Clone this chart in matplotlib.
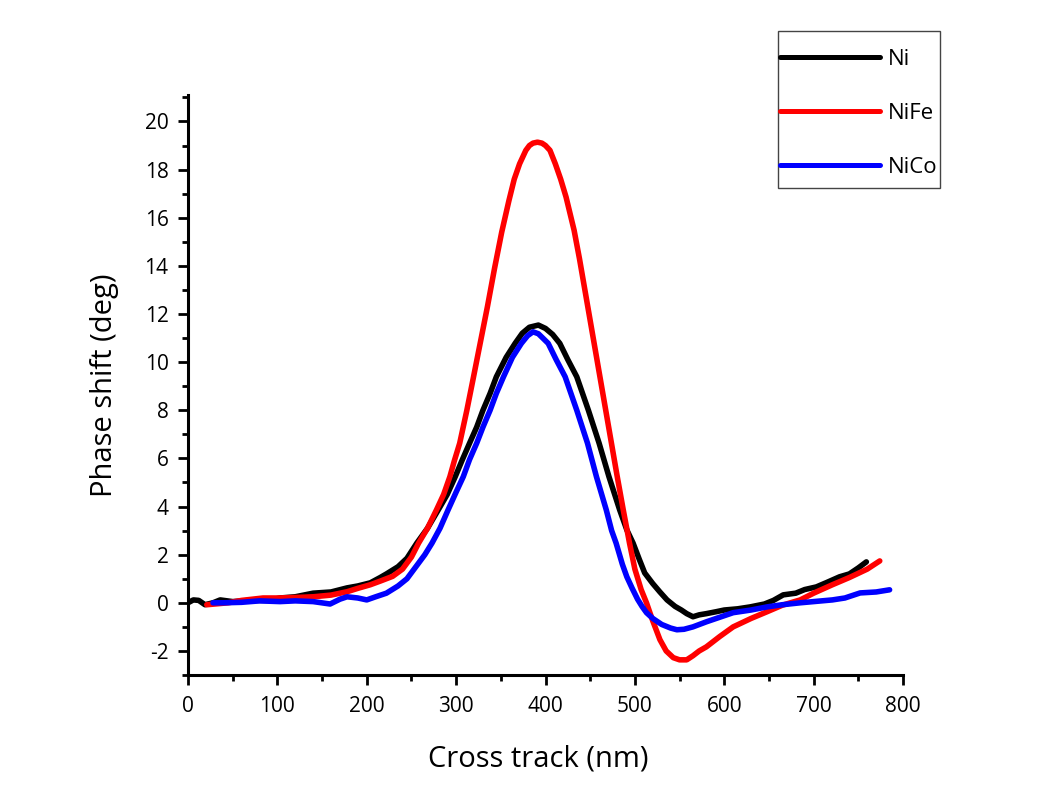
import matplotlib
matplotlib.use("Agg")
import matplotlib.pyplot as plt
from matplotlib.patches import Rectangle
from matplotlib.ticker import MultipleLocator

plt.rcParams["axes.unicode_minus"] = False

# Cross-track phase-shift profiles (x in nm, phase in degrees)
ni_x = [0, 6, 12, 19, 28, 36, 50, 70, 90, 103, 120, 140, 160, 178, 190, 204, 215, 222,
        235, 245, 256, 268, 280, 290, 299, 307, 315, 323, 330, 338, 345, 356, 366, 374,
        382, 392, 400, 408, 416, 425, 435, 448, 460, 471, 483, 491, 498, 505, 511, 520,
        528, 536, 545, 552, 558, 565, 572, 580, 591, 600, 615, 629, 645, 655, 666, 680,
        690, 703, 715, 729, 740, 750, 759]
ni_y = [0.0, 0.12, 0.1, -0.08, 0.0, 0.12, 0.05, 0.1, 0.1, 0.2, 0.25, 0.4, 0.45, 0.62,
        0.7, 0.83, 1.05, 1.2, 1.5, 1.85, 2.48, 3.1, 3.86, 4.5, 5.24, 5.95, 6.63, 7.3,
        8.0, 8.7, 9.39, 10.2, 10.78, 11.2, 11.45, 11.54, 11.4, 11.15, 10.78, 10.1, 9.39,
        8.0, 6.63, 5.24, 3.86, 3.03, 2.48, 1.8, 1.24, 0.8, 0.45, 0.12, -0.15, -0.3, -0.45,
        -0.58, -0.5, -0.45, -0.37, -0.3, -0.25, -0.17, -0.05, 0.1, 0.33, 0.4, 0.55, 0.66,
        0.85, 1.08, 1.2, 1.45, 1.7]

nife_x = [21, 30, 45, 60, 84, 100, 120, 140, 160, 178, 190, 204, 215, 222, 229, 240, 250,
          258, 268, 278, 286, 293, 298, 304, 312, 319, 327, 335, 343, 351, 359, 365,
          371, 378, 382, 386, 391, 396, 400, 405, 411, 417, 423, 432, 438, 445, 452,
          459, 466, 473, 480, 487, 494, 500, 507, 513, 520, 528, 535, 543, 550,
          558, 565, 572, 580, 595, 610, 630, 648, 665, 685, 700, 721, 740, 760, 774]
nife_y = [-0.08, -0.05, 0.0, 0.1, 0.2, 0.2, 0.22, 0.25, 0.32, 0.46, 0.6, 0.75, 0.9, 1.0,
          1.1, 1.4, 1.9, 2.48, 3.1, 3.86, 4.5, 5.24, 5.9, 6.63, 8.0, 9.3, 10.8, 12.3,
          13.9, 15.4, 16.7, 17.6, 18.24, 18.8, 19.0, 19.1, 19.14, 19.1, 19.0,
          18.8, 18.24, 17.6, 16.86, 15.48, 14.3, 12.8, 11.3, 9.8, 8.3, 6.8, 5.3, 3.86,
          2.48, 1.4, 0.55, 0.0, -0.75, -1.53, -2.0, -2.28, -2.37,
          -2.37, -2.2, -2.0, -1.83, -1.4, -1.0, -0.65, -0.37, -0.1, 0.12, 0.4, 0.75, 1.05,
          1.4, 1.74]

nico_x = [28, 40, 60, 80, 103, 120, 140, 159, 170, 178, 190, 200, 210, 222, 235, 245, 258,
          265, 273, 282, 291, 300, 308, 315, 323, 330, 338, 345, 353, 363, 373, 380, 386,
          392, 397, 403, 412, 422, 435, 447, 457, 468, 474, 479, 486, 491, 497, 503, 508,
          513, 520, 530, 540, 547, 555, 565, 580, 595, 610, 630, 648, 665, 685, 700, 721,
          735, 752, 770, 785]
nico_y = [0.0, 0.0, 0.02, 0.08, 0.05, 0.08, 0.05, -0.05, 0.15, 0.25, 0.2, 0.12, 0.25, 0.4,
          0.7, 1.0, 1.65, 2.0, 2.48, 3.1, 3.86, 4.6, 5.24, 5.95, 6.63, 7.3, 8.0, 8.7, 9.39,
          10.2, 10.78, 11.1, 11.26, 11.18, 11.0, 10.78, 10.1, 9.39, 8.0, 6.63, 5.24, 3.86,
          3.0, 2.48, 1.6, 1.08, 0.6, 0.15, -0.15, -0.41, -0.65, -0.9, -1.05, -1.12, -1.1,
          -1.0, -0.79, -0.6, -0.41, -0.3, -0.17, -0.08, 0.0, 0.05, 0.12, 0.2, 0.41, 0.45,
          0.54]

series = [("Ni", ni_x, ni_y, "#000000"),
          ("NiFe", nife_x, nife_y, "#ff0000"),
          ("NiCo", nico_x, nico_y, "#0000ff")]

W, H = 1038, 805
fig = plt.figure(figsize=(W / 100, H / 100), dpi=100)
fig.patch.set_facecolor("white")

ax_l, ax_r, ax_t, ax_b = 188, 903, 95, 675
ax = fig.add_axes([ax_l / W, 1 - ax_b / H, (ax_r - ax_l) / W, (ax_b - ax_t) / H])

lines = []
for name, xs, ys, col in series:
    ln, = ax.plot(xs, ys, color=col, lw=4.0, solid_capstyle="round",
                  solid_joinstyle="round", label=name)
    lines.append(ln)

ax.set_xlim(0, 800)
ax.set_ylim(-3, 21.1)
ax.xaxis.set_major_locator(MultipleLocator(100))
ax.xaxis.set_minor_locator(MultipleLocator(50))
ax.yaxis.set_major_locator(MultipleLocator(2))
ax.yaxis.set_minor_locator(MultipleLocator(1))

for side in ("top", "right"):
    ax.spines[side].set_visible(False)
for side in ("left", "bottom"):
    ax.spines[side].set_linewidth(2.2)

tick_font = "Open Sans"
ax.tick_params(which="major", direction="out", length=7, width=2.0, labelsize=15)
ax.tick_params(axis="y", which="major", pad=7)
ax.tick_params(axis="x", which="major", pad=8)
ax.tick_params(which="minor", direction="out", length=4, width=2.0)
for lab in ax.get_xticklabels() + ax.get_yticklabels():
    lab.set_fontfamily(tick_font)

ax.set_xlabel("Cross track (nm)", fontsize=21, fontfamily=tick_font)
ax.set_ylabel("Phase shift (deg)", fontsize=21, fontfamily=tick_font)
ax.xaxis.set_label_coords(0.49, -0.12)
ax.yaxis.set_label_coords(-0.097, 0.5)

# Legend box in the upper right corner of the figure
box_l, box_t, box_r, box_b = 778, 31, 940, 188
fig.patches.append(Rectangle((box_l / W, 1 - box_b / H), (box_r - box_l) / W,
                             (box_b - box_t) / H, transform=fig.transFigure,
                             fill=False, edgecolor="#444444", linewidth=1.0))
leg = fig.legend(handles=lines, loc="upper left",
                 bbox_to_anchor=(780 / W, 1 - 49 / H), frameon=False,
                 borderpad=0, borderaxespad=0, handlelength=4.5,
                 handletextpad=0.35, labelspacing=1.48,
                 prop={"family": "Open Sans", "size": 16})
for h in leg.legend_handles:
    h.set_linewidth(3.6)

fig.savefig("out.png", dpi=100, facecolor="white")
